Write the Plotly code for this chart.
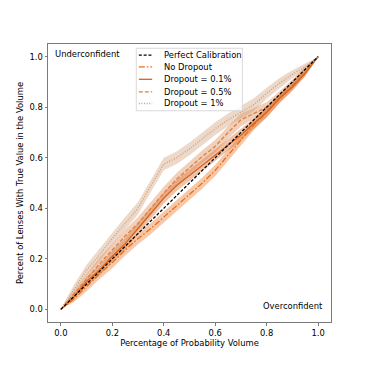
import plotly.graph_objects as go

# ---- data ----
x_volume = [0.0, 0.05, 0.10, 0.15, 0.20, 0.25, 0.30, 0.35, 0.40, 0.45, 0.50,
            0.55, 0.60, 0.65, 0.70, 0.75, 0.80, 0.85, 0.90, 0.95, 1.0]

perfect_x = [0.0, 1.0]
perfect_y = [0.0, 1.0]

no_dropout = [0.0, 0.04, 0.09, 0.14, 0.185, 0.235, 0.28, 0.32, 0.365, 0.41, 0.455,
              0.50, 0.55, 0.61, 0.67, 0.73, 0.78, 0.835, 0.885, 0.935, 1.0]
no_dropout_err = [0.0, 0.012, 0.018, 0.02, 0.022, 0.022, 0.022, 0.022, 0.022, 0.022, 0.022,
                  0.022, 0.022, 0.022, 0.022, 0.02, 0.02, 0.018, 0.016, 0.012, 0.0]

dropout_01 = [0.0, 0.05, 0.11, 0.155, 0.21, 0.26, 0.32, 0.38, 0.44, 0.49, 0.53,
              0.57, 0.61, 0.65, 0.69, 0.735, 0.78, 0.835, 0.88, 0.935, 1.0]
dropout_01_err = [0.0, 0.012, 0.018, 0.02, 0.022, 0.022, 0.022, 0.022, 0.022, 0.022, 0.022,
                  0.022, 0.022, 0.022, 0.022, 0.02, 0.02, 0.018, 0.016, 0.012, 0.0]

dropout_05 = [0.0, 0.06, 0.12, 0.18, 0.235, 0.29, 0.34, 0.40, 0.46, 0.515, 0.56,
              0.605, 0.645, 0.70, 0.75, 0.775, 0.80, 0.845, 0.895, 0.95, 1.0]
dropout_05_err = [0.0, 0.014, 0.02, 0.024, 0.025, 0.025, 0.025, 0.025, 0.025, 0.025, 0.025,
                  0.025, 0.025, 0.025, 0.025, 0.022, 0.02, 0.018, 0.015, 0.012, 0.0]

dropout_1 = [0.0, 0.08, 0.155, 0.215, 0.28, 0.34, 0.40, 0.49, 0.575, 0.60, 0.635,
             0.675, 0.715, 0.75, 0.78, 0.81, 0.855, 0.895, 0.93, 0.96, 1.0]
dropout_1_err = [0.0, 0.015, 0.022, 0.025, 0.025, 0.025, 0.025, 0.025, 0.025, 0.025, 0.025,
                 0.025, 0.025, 0.025, 0.025, 0.025, 0.022, 0.02, 0.016, 0.012, 0.0]

labels = ["Perfect Calibration", "No Dropout", "Dropout = 0.1%", "Dropout = 0.5%", "Dropout = 1%"]

# ---- styles ----
FONT = "DejaVu Sans"
FS = 8.4
series = [
    (no_dropout, no_dropout_err, (234, 110, 25), "6px,2px,1.5px,2px"),
    (dropout_01, dropout_01_err, (214, 98, 28), "solid"),
    (dropout_05, dropout_05_err, (220, 128, 70), "4px,2px"),
    (dropout_1, dropout_1_err, (208, 155, 115), "1px,1.6px"),
]

fig = go.Figure()

# bands
for vals, err, rgb, dash in series:
    upper = [v + e for v, e in zip(vals, err)]
    lower = [v - e for v, e in zip(vals, err)]
    fig.add_trace(go.Scatter(
        x=x_volume + x_volume[::-1], y=upper + lower[::-1],
        fill="toself", fillcolor="rgba(%d,%d,%d,0.38)" % rgb,
        line=dict(width=0), mode="lines", hoverinfo="skip", showlegend=False))

# lines
for (vals, err, rgb, dash), name in zip(series, labels[1:]):
    fig.add_trace(go.Scatter(
        x=x_volume, y=vals, mode="lines", name=name, showlegend=False,
        line=dict(color="rgb(%d,%d,%d)" % rgb, width=1.3, dash=dash)))

fig.add_trace(go.Scatter(
    x=perfect_x, y=perfect_y, mode="lines", name=labels[0], showlegend=False,
    line=dict(color="black", width=1.3, dash="3px,1.8px")))

# manual legend (matplotlib-style compact box)
legend_styles = [("black", "3px,1.8px")] + [("rgb(%d,%d,%d)" % s[2], s[3]) for s in series]
shapes = [dict(type="rect", xref="paper", yref="paper", x0=0.312, x1=0.687, y0=0.760, y1=0.9845,
               line=dict(color="#d0d0d0", width=0.8), fillcolor="rgba(255,255,255,0.8)",
               layer="above")]
annotations = []
row_y = [0.960, 0.918, 0.873, 0.828, 0.786]
for (col, dash), lab, ry in zip(legend_styles, labels, row_y):
    shapes.append(dict(type="line", xref="paper", yref="paper", x0=0.321, x1=0.368, y0=ry, y1=ry,
                       line=dict(color=col, width=1.3, dash=dash), layer="above"))
    annotations.append(dict(xref="paper", yref="paper", x=0.404, y=ry, text=lab, showarrow=False,
                            xanchor="left", yanchor="middle", font=dict(family=FONT, size=FS, color="black")))

annotations.append(dict(x=-0.029, y=1.011, xref="x", yref="y", text="Underconfident", showarrow=False,
                        xanchor="left", yanchor="middle", font=dict(family=FONT, size=FS, color="black")))
annotations.append(dict(x=1.028, y=0.012, xref="x", yref="y", text="Overconfident", showarrow=False,
                        xanchor="right", yanchor="middle", font=dict(family=FONT, size=FS, color="black")))

axis_common = dict(range=[-0.05, 1.05], tickvals=[0, 0.2, 0.4, 0.6, 0.8, 1.0],
                   ticktext=["0.0", "0.2", "0.4", "0.6", "0.8", "1.0"],
                   showgrid=False, zeroline=False, showline=True, mirror=True,
                   linecolor="#7a7a7a", linewidth=1, ticks="outside", ticklen=2.5,
                   tickcolor="#7a7a7a", tickwidth=0.8,
                   tickfont=dict(family=FONT, size=FS, color="black"))

# the page adds an 8px body margin, so the figure margins compensate for it
fig.update_layout(
    width=368, height=368,
    margin=dict(l=38, r=45, t=36, b=54),
    paper_bgcolor="white", plot_bgcolor="white",
    showlegend=False,
    shapes=shapes, annotations=annotations,
    xaxis=dict(axis_common, title=dict(text="Percentage of Probability Volume",
                                       font=dict(family=FONT, size=FS, color="black"), standoff=2)),
    yaxis=dict(axis_common, title=dict(text="Percent of Lenses With True Value in the Volume",
                                       font=dict(family=FONT, size=FS, color="black"), standoff=4)),
)

fig.write_html("out.html")
